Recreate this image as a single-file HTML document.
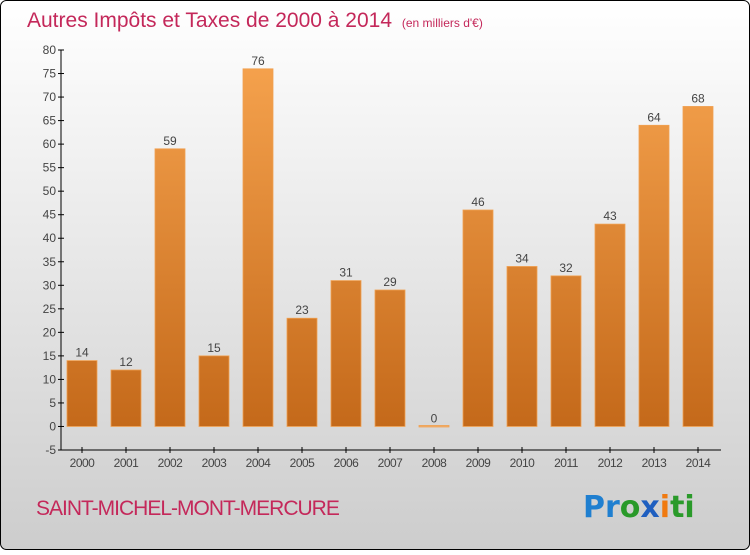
<!DOCTYPE html>
<html><head><meta charset="utf-8"><style>
body{margin:0;width:750px;height:550px;overflow:hidden;font-family:"Liberation Sans",sans-serif}
</style></head><body>
<svg id="chart" width="750" height="550" xmlns="http://www.w3.org/2000/svg">
<defs>
<linearGradient id="bg" x1="0" y1="0" x2="0" y2="1"><stop offset="0" stop-color="#ffffff"/><stop offset="1" stop-color="#cdcdcd"/></linearGradient>
<linearGradient id="bar" gradientUnits="userSpaceOnUse" x1="0" y1="50" x2="0" y2="427"><stop offset="0" stop-color="#f7a44f"/><stop offset="1" stop-color="#c4691a"/></linearGradient>
</defs>
<rect x="0.5" y="0.5" width="749" height="549" rx="6" fill="url(#bg)" stroke="#000"/>
<text x="27" y="27" font-size="21" fill="#c4285a">Autres Impôts et Taxes de 2000 à 2014 <tspan font-size="12" dx="4">(en milliers d'€)</tspan></text>
<g id="axes"></g><g id="bars"></g>
<text x="36" y="515" font-size="21" fill="#c4285a" letter-spacing="-1">SAINT-MICHEL-MONT-MERCURE</text>
<g font-size="30" font-weight="bold" font-family="'DejaVu Sans',sans-serif">
<text x="583" y="517"><tspan fill="#1f7fd0">Pr</tspan><tspan fill="#2a9a2a">o</tspan><tspan fill="#1f5fc0">x</tspan><tspan fill="#f07a10">i</tspan><tspan fill="#2a9a2a">ti</tspan></text>
</g>
</svg>
<script>
const categories=["2000","2001","2002","2003","2004","2005","2006","2007","2008","2009","2010","2011","2012","2013","2014"];
const values=[14,12,59,15,76,23,31,29,0,46,34,32,43,64,68];
const yTicks=[-5,0,5,10,15,20,25,30,35,40,45,50,55,60,65,70,75,80];
const NS="http://www.w3.org/2000/svg";
const y=v=>50+(80-v)*400/85;
const x=i=>82+i*44;
function mk(t,a,p){const e=document.createElementNS(NS,t);for(const k in a)e.setAttribute(k,a[k]);p.appendChild(e);return e;}
const ax=document.getElementById('axes'),bg=document.getElementById('bars');
let l=mk('line',{x1:61,y1:50,x2:61,y2:450,stroke:'#000'},ax);


l=mk('line',{x1:61,y1:450,x2:721,y2:450,stroke:'#000'},ax);


yTicks.forEach(v=>{
 const t=mk('line',{x1:58,y1:y(v),x2:64,y2:y(v),stroke:'#000'},ax);
 
 
 const tx=mk('text',{x:56,y:y(v)+4,'font-size':12,'text-anchor':'end',fill:'#444'},ax);
 tx.textContent=v;
 
 
});
categories.forEach((c,i)=>{
 const t=mk('line',{x1:x(i),y1:447,x2:x(i),y2:453,stroke:'#000'},ax);
 
 
 const tx=mk('text',{x:x(i),y:467,'font-size':12,'text-anchor':'middle',fill:'#444','letter-spacing':'-0.5'},ax);
 tx.textContent=c;
 
 
 const v=values[i];const top=y(v),h=Math.max(y(0)-top,1.5);
 const r=mk('rect',{x:x(i)-15,y:v===0?y(0)-1:top,width:30,height:h,fill:v===0?'#f0b070':'url(#bar)',stroke:'#f0a050','stroke-width':0.8},bg);
 
 
 const vl=mk('text',{x:x(i),y:top-4,'font-size':12,'text-anchor':'middle',fill:'#444'},bg);
 vl.textContent=v;
 
 
});
</script>
</body></html>
